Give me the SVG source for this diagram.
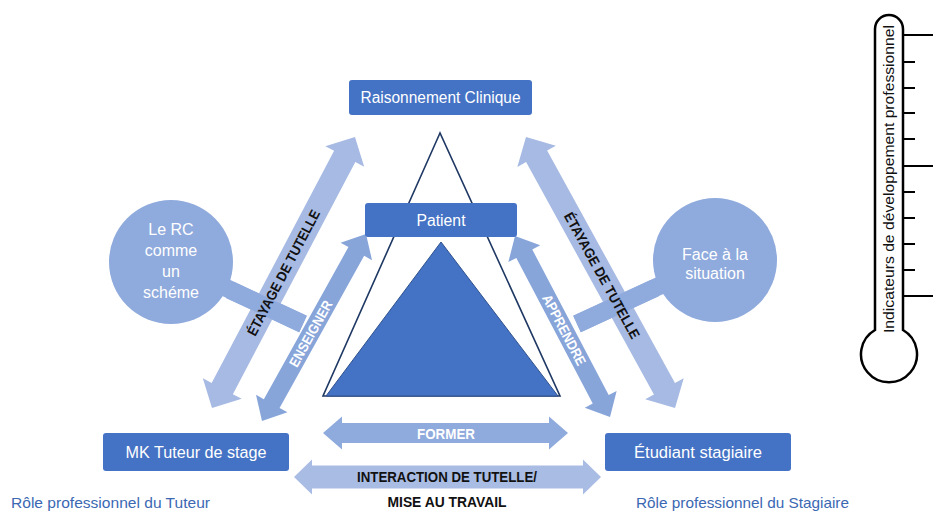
<svg xmlns="http://www.w3.org/2000/svg" width="933" height="515" viewBox="0 0 933 515">
<style>
text{font-family:"Liberation Sans",Arial,sans-serif}
.box{fill:#4472C4}
.bt{fill:#fff;font-size:16px;text-anchor:middle}
.circ{fill:#8FAADC}
.ct{fill:#fff;font-size:16px;text-anchor:middle}
.outer{fill:#A7BAE3}
.inner{fill:#88A5DA}
.lab{font-size:14px;font-weight:bold;text-anchor:middle}
.blk{fill:#111}
.wht{fill:#fff}
.role{fill:#3B68B3;font-size:15px}
.tick{stroke:#000;stroke-width:2}
</style>
<rect width="933" height="515" fill="#fff"/>

<g id="connectors">
  <line x1="171" y1="262" x2="303" y2="324" stroke="#8FAADC" stroke-width="18"/>
  <line x1="715" y1="260" x2="577" y2="324" stroke="#8FAADC" stroke-width="18"/>
  <g transform="translate(212,408) rotate(-62.18)">
    <polygon class="outer" points="0,0 22,-22 22,-12 284.4,-12 284.4,-22 306.4,0 284.4,22 284.4,12 22,12 22,22"/>
  </g>
  <g transform="translate(526,137) rotate(61.19)">
    <polygon class="outer" points="0,0 22,-22 22,-12 287.3,-12 287.3,-22 309.3,0 287.3,22 287.3,12 22,12 22,22"/>
  </g>
  <line x1="230" y1="290" x2="303" y2="324" stroke="#8FAADC" stroke-width="18"/>
  <line x1="655" y1="288" x2="577" y2="324" stroke="#8FAADC" stroke-width="18"/>
  <g transform="translate(262,421) rotate(-60.92)">
    <polygon class="inner" points="0,0 20,-18 20,-9 194,-9 194,-18 214,0 194,18 194,9 20,9 20,18"/>
    <text class="lab wht" x="100" y="5" textLength="74" lengthAdjust="spacingAndGlyphs">ENSEIGNER</text>
  </g>
  <g transform="translate(515,236) rotate(62.3)">
    <polygon class="inner" points="0,0 20,-18 20,-9 184.4,-9 184.4,-18 204.4,0 184.4,18 184.4,9 20,9 20,18"/>
    <text class="lab wht" x="106" y="5" textLength="78" lengthAdjust="spacingAndGlyphs">APPRENDRE</text>
  </g>
  <g transform="translate(212,408) rotate(-62.18)">
    <text class="lab blk" x="153" y="5" textLength="140" lengthAdjust="spacingAndGlyphs">ÉTAYAGE DE TUTELLE</text>
  </g>
  <g transform="translate(526,137) rotate(61.19)">
    <text class="lab blk" x="158" y="5" textLength="142" lengthAdjust="spacingAndGlyphs">ÉTAYAGE DE TUTELLE</text>
  </g>
  <polygon fill="#8FAADC" points="323,433 342,416.5 342,423 549,423 549,416.5 568,433 549,449.5 549,443 342,443 342,449.5"/>
  <text class="wht" x="446" y="438.5" font-size="14" font-weight="bold" text-anchor="middle" textLength="58" lengthAdjust="spacingAndGlyphs">FORMER</text>
  <polygon fill="#A9BCE4" points="294,477 312,459.5 312,465.5 583,465.5 583,459.5 601,477 583,494.5 583,488.5 312,488.5 312,494.5"/>
  <text class="blk" x="447" y="482" font-size="14" font-weight="bold" text-anchor="middle" textLength="180" lengthAdjust="spacingAndGlyphs">INTERACTION DE TUTELLE/</text>
  <text class="blk" x="447" y="507" font-size="14" font-weight="bold" text-anchor="middle" textLength="119" lengthAdjust="spacingAndGlyphs">MISE AU TRAVAIL</text>
</g>

<g id="triangle-outline">
  <polygon points="440,133 323,396 560,396" fill="#fff" stroke="#1F3864" stroke-width="1.6"/>
</g>
<g id="triangle-fill">
  <polygon points="441,242 326,396 558,396" fill="#4472C4" stroke="#2F528F" stroke-width="1"/>
</g>

<g id="raisonnement">
  <rect class="box" x="349" y="80" width="183" height="35" rx="3"/>
  <text class="bt" x="440.5" y="103" textLength="160" lengthAdjust="spacingAndGlyphs">Raisonnement Clinique</text>
</g>
<g id="patient">
  <rect class="box" x="365" y="203" width="152" height="34" rx="3"/>
  <text class="bt" x="441" y="226" textLength="49" lengthAdjust="spacingAndGlyphs">Patient</text>
</g>
<g id="tuteur">
  <rect class="box" x="103" y="433" width="186" height="38" rx="3"/>
  <text class="bt" x="196" y="458" textLength="141" lengthAdjust="spacingAndGlyphs">MK Tuteur de stage</text>
</g>
<g id="etudiant">
  <rect class="box" x="605" y="433" width="186" height="38" rx="3"/>
  <text class="bt" x="698" y="458" textLength="128" lengthAdjust="spacingAndGlyphs">Étudiant stagiaire</text>
</g>

<g id="circle-rc">
  <circle class="circ" cx="171" cy="262" r="62"/>
  <text class="ct" x="171" y="235">Le RC</text>
  <text class="ct" x="171" y="256">comme</text>
  <text class="ct" x="171" y="277">un</text>
  <text class="ct" x="171" y="298">schéme</text>
</g>
<g id="circle-situation">
  <circle class="circ" cx="715" cy="260" r="62"/>
  <text class="ct" x="715" y="260">Face à la</text>
  <text class="ct" x="715" y="279">situation</text>
</g>

<g id="role-tuteur">
  <text class="role" x="11" y="508" textLength="199" lengthAdjust="spacingAndGlyphs">Rôle professionnel du Tuteur</text>
</g>
<g id="role-stagiaire">
  <text class="role" x="636" y="508" textLength="213" lengthAdjust="spacingAndGlyphs">Rôle professionnel du Stagiaire</text>
</g>

<g id="thermometre">
  <path d="M875,330 L875,29 A14,14 0 0 1 903,29 L903,330 A28,28 0 1 1 875,330 Z" fill="#fff" stroke="#000" stroke-width="2.5"/>
  <line class="tick" x1="903" y1="35" x2="933" y2="35"/>
  <line class="tick" x1="903" y1="62" x2="915" y2="62"/>
  <line class="tick" x1="903" y1="88" x2="915" y2="88"/>
  <line class="tick" x1="903" y1="113" x2="915" y2="113"/>
  <line class="tick" x1="903" y1="139" x2="915" y2="139"/>
  <line class="tick" x1="903" y1="166" x2="933" y2="166"/>
  <line class="tick" x1="903" y1="192" x2="915" y2="192"/>
  <line class="tick" x1="903" y1="218" x2="915" y2="218"/>
  <line class="tick" x1="903" y1="244" x2="915" y2="244"/>
  <line class="tick" x1="903" y1="270" x2="915" y2="270"/>
  <line class="tick" x1="903" y1="296" x2="933" y2="296"/>
  <text transform="translate(894,179) rotate(-90)" x="0" y="0" font-size="15" fill="#111" text-anchor="middle" textLength="308" lengthAdjust="spacingAndGlyphs">Indicateurs de développement professionnel</text>
</g>
</svg>
